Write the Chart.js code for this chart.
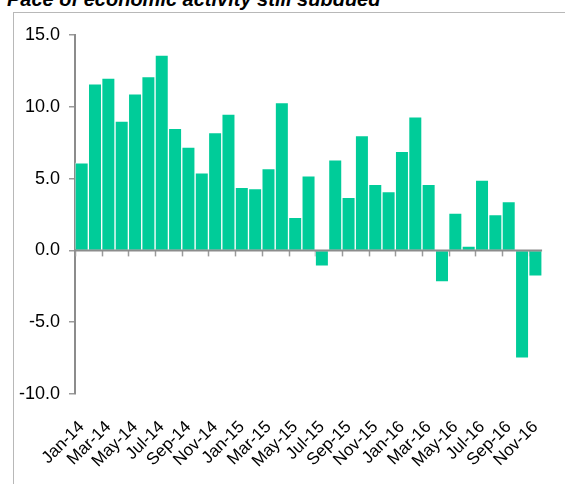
<!DOCTYPE html>
<html>
<head>
<meta charset="utf-8">
<script src="https://cdn.jsdelivr.net/npm/chart.js@4/dist/chart.umd.min.js"></script>
<style>
  html, body { margin: 0; padding: 0; background: #ffffff; overflow: hidden; }
  #wrap { position: relative; width: 565px; height: 484px; }
  #frame {
    position: absolute; left: 13px; top: 12px; right: -10px; bottom: -10px;
    border-left: 1px solid #b8b8b8; border-top: 1px solid #b8b8b8;
  }
  #title {
    position: absolute; left: 7px; top: -11px; margin: 0;
    font: italic bold 20px "Liberation Sans", Arial, sans-serif;
    line-height: 20px; color: #000; white-space: nowrap;
  }
  canvas { position: absolute; left: 0; top: 0; }
</style>
</head>
<body>
<div id="wrap">
  <div id="frame"></div>
  <div id="title">Pace of economic activity still subdued</div>
  <canvas id="chart" width="565" height="484"></canvas>
</div>
<script>
// Monthly series, Jan-14 to Nov-16
const months = [
  'Jan-14','Feb-14','Mar-14','Apr-14','May-14','Jun-14','Jul-14','Aug-14','Sep-14','Oct-14','Nov-14','Dec-14',
  'Jan-15','Feb-15','Mar-15','Apr-15','May-15','Jun-15','Jul-15','Aug-15','Sep-15','Oct-15','Nov-15','Dec-15',
  'Jan-16','Feb-16','Mar-16','Apr-16','May-16','Jun-16','Jul-16','Aug-16','Sep-16','Oct-16','Nov-16'
];
const values = [
  6.1, 11.6, 12.0, 9.0, 10.9, 12.1, 13.6, 8.5, 7.2, 5.4, 8.2, 9.5,
  4.4, 4.3, 5.7, 10.3, 2.3, 5.2, -1.1, 6.3, 3.7, 8.0, 4.6, 4.1,
  6.9, 9.3, 4.6, -2.2, 2.6, 0.3, 4.9, 2.5, 3.4, -7.5, -1.8
];
const yMin = -10;
const yMax = 15;
const yStep = 5;

const AXIS_GREY = '#8c8c8c';
const FAMILY = '"Liberation Sans", Arial, sans-serif';

// Zero line with tick marks at every second category boundary
const zeroAxis = {
  id: 'zeroAxis',
  beforeDatasetsDraw(chart) {
    const { ctx } = chart;
    const x = chart.scales.x, y = chart.scales.y;
    const y0 = y.getPixelForValue(0);
    const half = (x.getPixelForValue(1) - x.getPixelForValue(0)) / 2;
    ctx.save();
    ctx.strokeStyle = '#9a9a9a';
    ctx.lineWidth = 1.5;
    for (let i = 0; i < months.length; i += 2) {
      const px = Math.round(x.getPixelForValue(i) - half) + 0.5;
      ctx.beginPath();
      ctx.moveTo(px, y0);
      ctx.lineTo(px, y0 + 6);
      ctx.stroke();
    }
    ctx.restore();
  },
  afterDatasetsDraw(chart) {
    const { ctx, chartArea } = chart;
    const y0 = chart.scales.y.getPixelForValue(0);
    ctx.save();
    ctx.strokeStyle = AXIS_GREY;
    ctx.lineWidth = 2;
    ctx.beginPath();
    ctx.moveTo(chartArea.left, y0);
    ctx.lineTo(chartArea.right, y0);
    ctx.stroke();
    ctx.restore();
  }
};

new Chart(document.getElementById('chart'), {
  type: 'bar',
  data: {
    labels: months,
    datasets: [{
      data: values,
      backgroundColor: '#00cc99',
      borderColor: 'rgba(255,255,255,0.5)',
      borderWidth: 1,
      barPercentage: 1,
      categoryPercentage: 1
    }]
  },
  options: {
    responsive: false,
    animation: false,
    devicePixelRatio: 1,
    layout: { padding: { top: 35, right: 12, bottom: 0, left: 0 } },
    plugins: { legend: { display: false }, tooltip: { enabled: false }, title: { display: false } },
    scales: {
      x: {
        offset: true,
        grid: { display: false },
        border: { display: false },
        ticks: {
          autoSkip: false,
          minRotation: 45,
          maxRotation: 45,
          padding: 15,
          color: '#000',
          font: { family: FAMILY, size: 17 },
          callback: (v, i) => (i % 2 === 0 ? months[i] : '')
        },
        afterFit: s => { s.height = 90; }
      },
      y: {
        min: yMin,
        max: yMax,
        grid: { drawOnChartArea: false, drawTicks: true, tickLength: 6, color: '#9a9a9a', lineWidth: 1.5 },
        border: { display: true, color: AXIS_GREY, width: 2 },
        ticks: {
          stepSize: yStep,
          padding: 9,
          color: '#000',
          font: { family: FAMILY, size: 18 },
          callback: v => Number(v).toFixed(1)
        },
        afterFit: s => { s.width = 75; }
      }
    }
  },
  plugins: [zeroAxis]
});
</script>
</body>
</html>
